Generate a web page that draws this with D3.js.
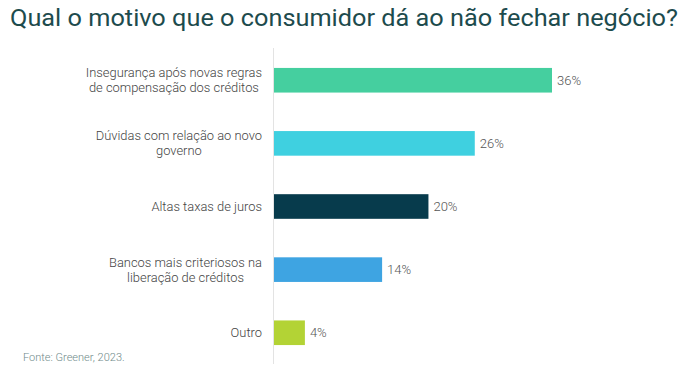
<!DOCTYPE html>
<html><head><meta charset="utf-8">
<script src="https://cdn.jsdelivr.net/npm/d3@7"></script>
<style>html,body{margin:0;padding:0;background:#fff;}</style>
</head><body>
<svg id="c" width="694" height="368"></svg>
<script>
const categories = [
  ["Insegurança após novas regras", "de compensação dos créditos"],
  ["Dúvidas com relação ao novo", "governo"],
  ["Altas taxas de juros"],
  ["Bancos mais criteriosos na", "liberação de créditos"],
  ["Outro"]
];
const values = [36, 26, 20, 14, 4];
const colors = ["#45cf9f", "#3fd0e0", "#073b4c", "#3ea4e2", "#b3d335"];
const title = "Qual o motivo que o consumidor dá ao não fechar negócio?";
const source = "Fonte: Greener, 2023.";

const svg = d3.select("#c");
const font = "Roboto, 'Noto Sans', sans-serif";

const x0 = 274;
const x = d3.scaleLinear().domain([0, 36]).range([x0, 552]);
const y = d3.scaleBand().domain(d3.range(values.length)).range([49, 364]).paddingInner(0.61).paddingOuter(0.3);

svg.append("text").attr("x", 10).attr("y", 26)
  .attr("font-family", font).attr("font-size", 24.5).attr("fill", "#1d4b4d")
  .attr("textLength", 668).attr("lengthAdjust", "spacingAndGlyphs")
  .text(title);

svg.append("line").attr("x1", 273.5).attr("x2", 273.5).attr("y1", 48).attr("y2", 364)
  .attr("stroke", "#e3e3e3").attr("stroke-width", 1);

svg.selectAll("rect.bar").data(values).join("rect")
  .attr("x", x(0)).attr("y", (d, i) => y(i))
  .attr("width", d => x(d) - x(0)).attr("height", y.bandwidth())
  .attr("fill", (d, i) => colors[i]);

svg.selectAll("text.val").data(values).join("text")
  .attr("x", d => x(d) + 5).attr("y", (d, i) => y(i) + y.bandwidth() / 2)
  .attr("dy", "0.35em")
  .attr("font-family", font).attr("font-size", 13).attr("font-weight", 300).attr("fill", "#555")
  .text(d => d + "%");

const lab = svg.selectAll("text.lab").data(categories).join("text")
  .attr("font-family", font).attr("font-size", 12.9).attr("font-weight", 300).attr("fill", "#444")
  .attr("text-anchor", "middle");
lab.each(function(lines, i) {
  const t = d3.select(this);
  const cy = y(i) + y.bandwidth() / 2;
  const lh = 15;
  lines.forEach((l, k) => {
    t.append("tspan").attr("x", 0).attr("y", cy + (k - (lines.length - 1) / 2) * lh)
      .attr("dy", "0.35em").text(l);
  });
});
lab.each(function() {
  const w = this.getBBox().width;
  d3.select(this).selectAll("tspan").attr("x", 262 - w / 2);
});

svg.append("text").attr("x", 23).attr("y", 361)
  .attr("font-family", font).attr("font-size", 11).attr("font-weight", 300).attr("fill", "#6f8a8a")
  .text(source);
</script>
</body></html>
